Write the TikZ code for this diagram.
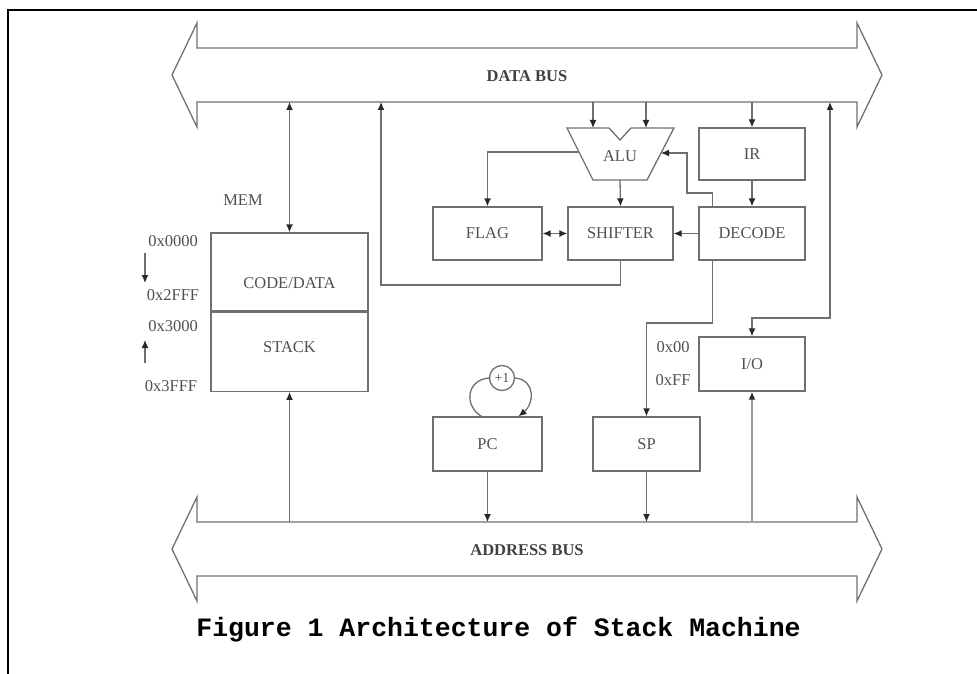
\documentclass[tikz,border=0pt]{standalone}
\usepackage{fontspec}
\setmainfont{Liberation Serif}
\setmonofont{Liberation Mono}
\usetikzlibrary{arrows.meta,positioning}

\definecolor{wiregray}{RGB}{112,112,112}
\definecolor{inkgray}{RGB}{80,80,80}
\definecolor{tipgray}{RGB}{40,40,40}

\begin{document}
\begin{tikzpicture}[x=1pt, y=-1pt,
  wire/.style={draw=wiregray, line width=1.3pt},
  arr/.style={wire, -{Latex[length=8pt,width=7pt,color=tipgray]}},
  darr/.style={wire, {Latex[length=8pt,width=7pt,color=tipgray]}-{Latex[length=8pt,width=7pt,color=tipgray]}},
  lbl/.style={text=inkgray, inner sep=0pt, font=\fontsize{16.5}{18}\selectfont},
  blk/.style={wire, lbl, minimum height=53pt},
  buslbl/.style={text=black!75, inner sep=0pt, font=\fontsize{16.5}{18}\selectfont\bfseries}]

\useasboundingbox (0,0) rectangle (977,674);

% page frame
\draw[line width=1.6pt] (8,674) -- (8,10) -- (977,10);

% the two buses
\foreach \yc/\name/\txt in {75/dbus/DATA BUS, 549/abus/ADDRESS BUS}{
  \draw[wire] (172,\yc) -- (197,\yc-52) -- (197,\yc-27) -- (857,\yc-27) -- (857,\yc-52)
    -- (882,\yc) -- (857,\yc+52) -- (857,\yc+27) -- (197,\yc+27) -- (197,\yc+52) -- cycle;
  \node[buslbl] (\name) at (527,\yc+1) {\txt};
  \coordinate (\name-top) at (527,\yc-27);
  \coordinate (\name-bot) at (527,\yc+27);
}

% memory
\node[lbl] (mem) at (243,200) {MEM};
\node[blk, minimum width=157pt, minimum height=78pt,
  label={[lbl, yshift=-11pt]center:CODE/DATA}] (code) at (289.5,272) {};
\node[blk, minimum width=157pt, minimum height=79pt, below=0pt of code,
  label={[lbl, yshift=5pt]center:STACK}] (stack) {};
\node[lbl] (a0) at (173,241) {0x0000};
\node[lbl] (a1) at (173,295) {0x2FFF};
\node[lbl] (a2) at (173,326) {0x3000};
\node[lbl] (a3) at (171,386) {0x3FFF};
\draw[arr] (145,253) -- (145,283);
\draw[arr] (145,363) -- (145,340);

% alu
\draw[wire] (567,128) -- (609,128) -- (620,140) -- (631,128) -- (674,128)
  -- (647,180) -- (593,180) -- cycle;
\node[lbl] (alu) at (620,156) {ALU};
\coordinate (alu-a) at (593,128);
\coordinate (alu-b) at (646,128);
\coordinate (alu-out) at (620,180);
\coordinate (alu-l) at (579,152);
\coordinate (alu-r) at (661,153);

% registers
\node[blk, minimum width=106pt, minimum height=52pt] (ir) at (752,154) {IR};
\node[blk, minimum width=106pt] (decode) at (752,233.5) {DECODE};
\node[blk, minimum width=105pt] (shifter) at (620.5,233.5) {SHIFTER};
\node[blk, minimum width=109pt] (flag) at (487.5,233.5) {FLAG};
\node[blk, minimum width=106pt, minimum height=54pt] (io) at (752,364) {I/O};
\node[blk, minimum width=109pt, minimum height=54pt] (pc) at (487.5,444) {PC};
\node[blk, minimum width=107pt, minimum height=54pt] (sp) at (646.5,444) {SP};
\node[lbl] (lo) at (673,347) {0x00};
\node[lbl] (hi) at (673,380) {0xFF};
\node[wire, circle, text=inkgray, inner sep=0pt, minimum size=25pt,
  font=\fontsize{14}{16}\selectfont] (inc) at (502,378) {+1};

% bends of the longer wires
\coordinate (wb) at (381,285);
\coordinate (iob) at (830,318);
\coordinate (spb) at (646.5,323);
\coordinate (dcb) at (687,193);

% data bus side
\draw[darr] (code.north |- dbus-bot) -- (code.north);
\draw[arr] (shifter.south) |- (wb) -- (wb |- dbus-bot);
\draw[arr] (alu-a |- dbus-bot) -- (alu-a);
\draw[arr] (alu-b |- dbus-bot) -- (alu-b);
\draw[arr] (ir.north |- dbus-bot) -- (ir.north);
\draw[darr] (io.north) |- (iob) -- (iob |- dbus-bot);

% inside the cpu
\draw[arr] (ir) -- (decode);
\draw[arr] (alu-out) -- (shifter.north);
\draw[arr] (decode) -- (shifter);
\draw[darr] (flag) -- (shifter);
\draw[arr] (alu-l) -| (flag.north);
\draw[arr] ([xshift=14pt]decode.north west) |- (dcb) |- (alu-r);
\draw[arr] ([xshift=14pt]decode.south west) |- (spb) -- (sp.north);
\draw[wire] ([xshift=-6pt]pc.north) .. controls (464,406) and (466,380) .. (inc.west);
\draw[arr] (inc.east) .. controls (536,380) and (534,404) .. ([xshift=31pt]pc.north);

% address bus side
\draw[arr] (stack.south |- abus-top) -- (stack.south);
\draw[arr] (pc) -- (pc.south |- abus-top);
\draw[arr] (sp) -- (sp.south |- abus-top);
\draw[arr, draw=wiregray!70, line width=2pt] (io.south |- abus-top) -- (io.south);

\node[font=\ttfamily\bfseries\fontsize{26.5}{30}\selectfont] (caption) at (498.5,630)
  {Figure 1 Architecture of Stack Machine};

\end{tikzpicture}
\end{document}
